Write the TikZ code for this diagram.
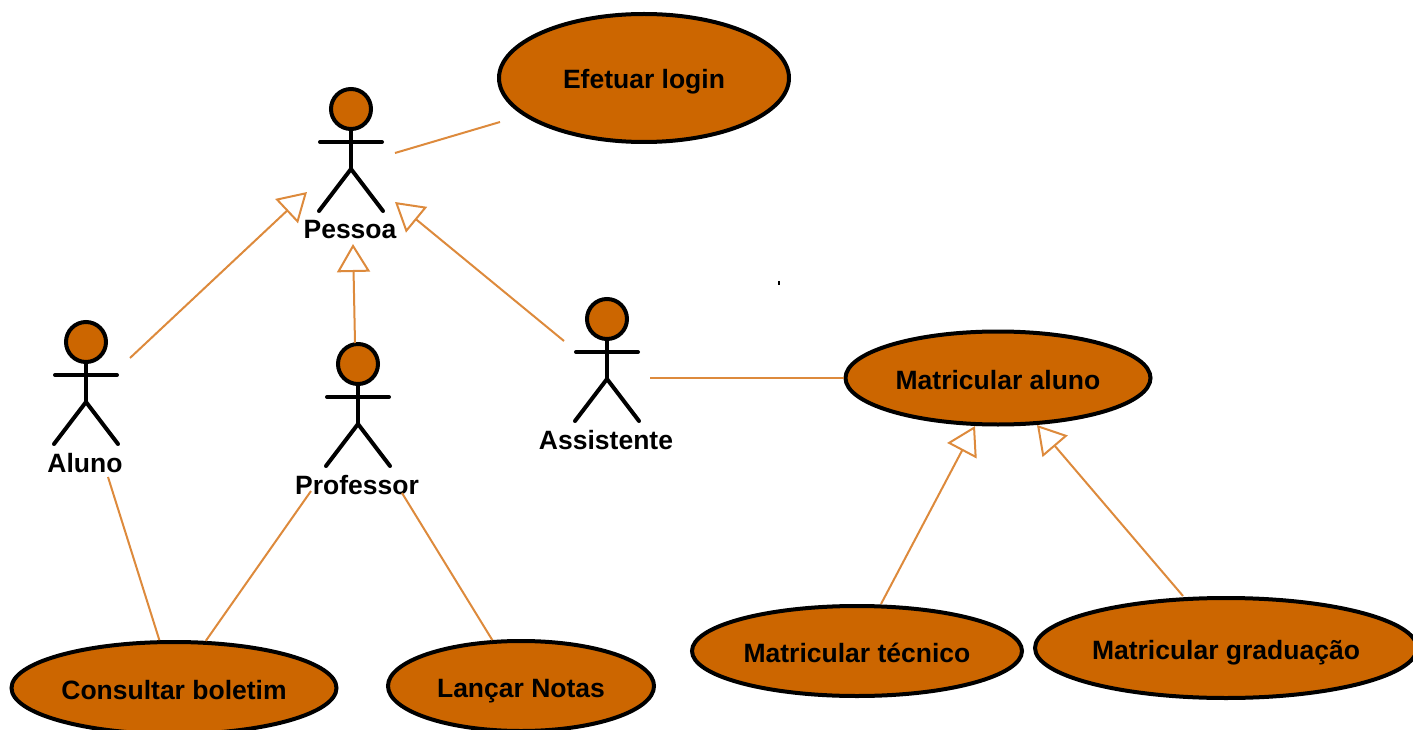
\documentclass[tikz,border=0pt]{standalone}
\usepackage{fontspec}
\setmainfont{Liberation Sans}
\usepackage{xcolor}
\definecolor{colorFill}{HTML}{CC6600}
\definecolor{colorLink}{HTML}{DD8A3C}
\usepackage{tikz}
\usetikzlibrary{arrows.meta, shapes.geometric}
\tikzset{
caseBox/.style={ellipse, draw=black, line width=4pt, fill=colorFill, inner sep=0pt, text height=22pt, text depth=0pt, font=\bfseries\fontsize{26.5}{30}\selectfont},
actorHead/.style={circle, draw=black, line width=4pt, fill=colorFill, minimum size=40pt, inner sep=0pt},
actorText/.style={font=\bfseries\fontsize{26.5}{30}\selectfont, inner sep=0pt},
actorLimb/.style={draw=black, line width=4pt, line cap=round},
assocLine/.style={draw=colorLink, line width=2pt},
genLine/.style={assocLine, -{Triangle[open, length=28pt, width=33pt, line width=2pt]}}
}
\newcommand{\actorFig}[4]{
\draw[actorLimb] (#2,#3+21) -- (#2,#3+60);
\draw[actorLimb] (#2-31,#3+33) -- (#2+31,#3+33);
\draw[actorLimb] (#2-32,#3+102) -- (#2,#3+60) -- (#2+32,#3+102);
\node[actorHead] (#1) at (#2,#3) {};
\node[actorText] (#1Text) at (#2-1,#3+121) {#4};
}
\begin{document}
\begin{tikzpicture}[x=1pt, y=-1pt]
\useasboundingbox (0,0) rectangle (1413,730);
\actorFig{pessoa}{351}{109}{Pessoa}
\actorFig{aluno}{86}{342}{Aluno}
\actorFig{professor}{358}{364}{Professor}
\actorFig{assistente}{607}{319}{Assistente}
\node[caseBox, minimum width=290pt, minimum height=128pt] (login) at (644,78) {Efetuar login};
\node[caseBox, minimum width=305pt, minimum height=93pt] (matAluno) at (998,378) {Matricular aluno};
\node[caseBox, minimum width=325pt, minimum height=92pt] (boletim) at (174,688) {Consultar boletim};
\node[caseBox, minimum width=266pt, minimum height=90pt] (notas) at (521,686) {Lançar Notas};
\node[caseBox, minimum width=330pt, minimum height=90pt] (tecnico) at (857,651) {Matricular técnico};
\node[caseBox, minimum width=382pt, minimum height=100pt] (graduacao) at (1226,648) {Matricular graduação};
\node[fill=black, minimum width=2pt, minimum height=4pt, inner sep=0pt] (dotMark) at (779,283) {};
\coordinate (pessoaRight) at (395,153);
\coordinate (loginLeft) at (500,122);
\coordinate (alunoTop) at (130,358);
\coordinate (pessoaTipA) at (307,192);
\coordinate (professorTop) at (355,343);
\coordinate (pessoaTipB) at (353,244);
\coordinate (assistenteTop) at (564,341);
\coordinate (pessoaTipC) at (395,202);
\coordinate (assistenteRight) at (650,378);
\coordinate (alunoBottom) at (108,477);
\coordinate (professorLeft) at (311,491);
\coordinate (professorRight) at (402,493);
\coordinate (alunoTipA) at (975,426);
\coordinate (alunoTipB) at (1037,425);
\draw[assocLine] (pessoaRight) -- (loginLeft);
\draw[genLine] (alunoTop) -- (pessoaTipA);
\draw[genLine] (professorTop) -- (pessoaTipB);
\draw[genLine] (assistenteTop) -- (pessoaTipC);
\draw[assocLine] (assistenteRight) -- (matAluno.west);
\draw[assocLine] (alunoBottom) -- (boletim.107);
\draw[assocLine] (professorLeft) -- (boletim.56);
\draw[assocLine] (professorRight) -- (notas.122);
\draw[genLine] (tecnico.north) ++(24,0) -- (alunoTipA);
\draw[genLine] (graduacao.north) ++(-43,0) -- (alunoTipB);
\end{tikzpicture}
\end{document}
